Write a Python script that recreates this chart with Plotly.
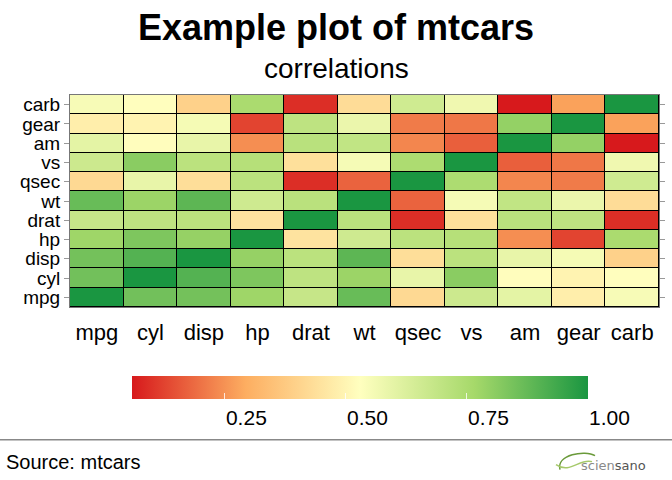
import plotly.graph_objects as go

variables = ["mpg", "cyl", "disp", "hp", "drat", "wt", "qsec", "vs", "am", "gear", "carb"]

cor_mpg = [1.000, -0.852, -0.848, -0.776, 0.681, -0.868, 0.419, 0.664, 0.600, 0.480, -0.551]
cor_cyl = [-0.852, 1.000, 0.902, 0.832, -0.700, 0.782, -0.591, -0.811, -0.523, -0.493, 0.527]
cor_disp = [-0.848, 0.902, 1.000, 0.791, -0.710, 0.888, -0.434, -0.710, -0.591, -0.556, 0.395]
cor_hp = [-0.776, 0.832, 0.791, 1.000, -0.449, 0.659, -0.708, -0.723, -0.243, -0.126, 0.750]
cor_drat = [0.681, -0.700, -0.710, -0.449, 1.000, -0.712, 0.091, 0.440, 0.713, 0.700, -0.091]
cor_wt = [-0.868, 0.782, 0.888, 0.659, -0.712, 1.000, -0.175, -0.555, -0.692, -0.583, 0.428]
cor_qsec = [0.419, -0.591, -0.434, -0.708, 0.091, -0.175, 1.000, 0.745, -0.230, -0.213, -0.656]
cor_vs = [0.664, -0.811, -0.710, -0.723, 0.440, -0.555, 0.745, 1.000, 0.168, 0.206, -0.570]
cor_am = [0.600, -0.523, -0.591, -0.243, 0.713, -0.692, -0.230, 0.168, 1.000, 0.794, 0.058]
cor_gear = [0.480, -0.493, -0.556, -0.126, 0.700, -0.583, -0.213, 0.206, 0.794, 1.000, 0.274]
cor_carb = [-0.551, 0.527, 0.395, 0.750, -0.091, 0.428, -0.656, -0.570, 0.058, 0.274, 1.000]

colorbar_ticks = [0.25, 0.50, 0.75, 1.00]
colorbar_ticktext = ["0.25", "0.50", "0.75", "1.00"]

rows = [cor_mpg, cor_cyl, cor_disp, cor_hp, cor_drat, cor_wt,
        cor_qsec, cor_vs, cor_am, cor_gear, cor_carb]
z = [[abs(v) for v in r] for r in rows]
zmin = min(min(r) for r in z)

W, H = 672, 480
ML, MR, MT, MB = 70, 13, 94.5, 173
PW = W - ML - MR
PH = H - MT - MB


def px(p):
    return (p - ML) / PW


def py(p):
    return (H - MB - p) / PH


FONT = "Liberation Sans, Arial, sans-serif"

fig = go.Figure(go.Heatmap(
    x=variables, y=variables, z=z,
    zmin=zmin, zmax=1.0,
    xgap=1, ygap=1,
    colorscale=[[0, "#d7191c"], [0.25, "#fdae61"], [0.5, "#ffffbf"],
                [0.75, "#a6d96a"], [1, "#1a9641"]],
    colorbar=dict(
        orientation="h",
        lenmode="pixels", len=456,
        thickness=23, thicknessmode="pixels",
        x=px(132), xanchor="left",
        y=py(376), yanchor="top",
        xpad=0, ypad=0,
        outlinewidth=0,
        tickvals=colorbar_ticks, ticktext=colorbar_ticktext,
        ticks="inside", ticklen=6, tickcolor="rgba(255,255,255,0.8)",
        ticklabelposition="outside right",
        tickfont=dict(family=FONT, size=21, color="black"),
    ),
    hoverongaps=False,
))

fig.update_layout(
    width=W, height=H,
    margin=dict(l=ML, r=MR, t=MT, b=MB, autoexpand=False),
    paper_bgcolor="white",
    plot_bgcolor="black",
    font=dict(family=FONT, color="black"),
    xaxis=dict(
        showgrid=False, zeroline=False, automargin=False,
        showline=True, linecolor="#777777", linewidth=1, mirror=True,
        ticks="", tickfont=dict(size=22, color="black"),
        tickmode="array", tickvals=variables, ticktext=variables,
        ticklabelstandoff=6,
    ),
    yaxis=dict(
        showgrid=False, zeroline=False, automargin=False,
        showline=True, linecolor="#777777", linewidth=1, mirror="ticks",
        ticks="outside", ticklen=5, tickcolor="#999999",
        tickmode="array", tickvals=variables, ticktext=variables,
        tickfont=dict(size=19, color="black"),
    ),
    annotations=[
        dict(text="<b>Example plot of mtcars</b>", xref="paper", yref="paper",
             x=px(336), y=py(27), xanchor="center", yanchor="middle",
             showarrow=False, font=dict(family=FONT, size=36, color="black")),
        dict(text="correlations", xref="paper", yref="paper",
             x=px(336), y=py(68), xanchor="center", yanchor="middle",
             showarrow=False, font=dict(family=FONT, size=28, color="black")),
        dict(text="Source: mtcars", xref="paper", yref="paper",
             x=px(4), y=py(462), xanchor="left", yanchor="middle",
             showarrow=False, font=dict(family=FONT, size=20, color="black")),
        dict(text="<span style='color:#8a8a8a'>scien</span><span style='color:#555555'>sano</span>",
             xref="paper", yref="paper",
             x=px(579), y=py(466), xanchor="left", yanchor="middle",
             showarrow=False, font=dict(family="DejaVu Sans, sans-serif", size=13)),
    ],
    shapes=[
        dict(type="line", xref="paper", yref="paper",
             x0=px(0), x1=px(W), y0=py(440), y1=py(440),
             line=dict(color="#888888", width=1.5)),
        dict(type="path", xref="paper", yref="paper",
             path="M {a},{b} C {c},{d} {e},{f} {g},{h}".format(
                 a=px(560), b=py(470), c=px(556), d=py(455),
                 e=px(585), f=py(450), g=px(595), h=py(456)),
             line=dict(color="#6a9a3a", width=1.5)),
        dict(type="path", xref="paper", yref="paper",
             path="M {a},{b} C {c},{d} {e},{f} {g},{h}".format(
                 a=px(556), b=py(465), c=px(570), d=py(475),
                 e=px(580), f=py(458), g=px(592), h=py(462)),
             line=dict(color="#a6c96a", width=1.5)),
    ],
)

fig.write_html("out.html",
               config={"displayModeBar": False},
               post_script="document.body.style.margin='0px';document.body.style.overflow='hidden';")
